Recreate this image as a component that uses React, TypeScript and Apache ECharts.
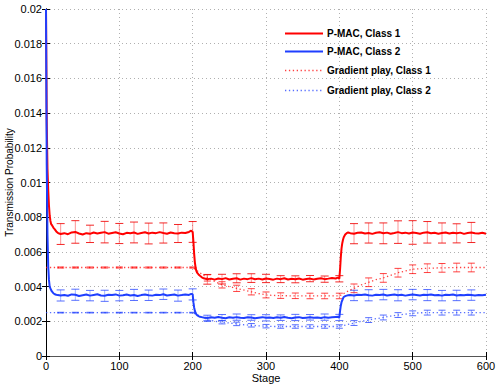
import React, { useEffect, useRef } from "react";
import * as echarts from "echarts";

const seriesNames = ["P-MAC, Class 1", "P-MAC, Class 2", "Gradient play, Class 1", "Gradient play, Class 2"];

const pmacStages = [
  0, 1, 2, 3, 4, 5, 6, 7, 8, 10, 12, 14, 16, 18,
  20, 25, 30, 35, 40, 45, 50, 55, 60, 65, 70, 75, 80, 85, 90, 95, 100, 105, 110, 115, 120, 125, 130, 135, 140, 145, 150, 155, 160, 165, 170, 175, 180, 185, 190, 195,
  198, 200, 201, 202, 203, 204, 205, 206, 208, 210, 212,
  215, 220, 225, 230, 235, 240, 245, 250, 255, 260, 265, 270, 275, 280, 285, 290, 295, 300, 305, 310, 315, 320, 325, 330, 335, 340, 345, 350, 355, 360, 365, 370, 375, 380, 385, 390, 395,
  398, 400, 401, 402, 403, 404, 405, 406, 408, 410, 412,
  415, 420, 425, 430, 435, 440, 445, 450, 455, 460, 465, 470, 475, 480, 485, 490, 495, 500, 505, 510, 515, 520, 525, 530, 535, 540, 545, 550, 555, 560, 565, 570, 575, 580, 585, 590, 595, 600,
];

const pmacClass1 = [
  0.02, 0.0135, 0.0108, 0.0096, 0.0087, 0.0081, 0.0078, 0.0076, 0.00755, 0.0074, 0.0073, 0.00718, 0.0071, 0.00706,
  0.00703, 0.00708, 0.00702, 0.00712, 0.00715, 0.00706, 0.007, 0.00708, 0.00704, 0.00712,
  0.00706, 0.0071, 0.00714, 0.00705, 0.00709, 0.00713, 0.00706, 0.00702, 0.0071, 0.00707,
  0.00712, 0.00704, 0.00709, 0.00713, 0.00706, 0.00711, 0.00708, 0.00714, 0.00709, 0.00705,
  0.00712, 0.00708, 0.00706, 0.00711, 0.00709, 0.00715,
  0.00722, 0.00715, 0.0066, 0.0059, 0.0054, 0.0051, 0.0049, 0.0048, 0.0047, 0.00462, 0.00455,
  0.00448, 0.00442, 0.00446, 0.0044, 0.00447, 0.00443, 0.00449, 0.00441, 0.00445, 0.00448,
  0.0044, 0.00446, 0.00443, 0.00449, 0.00442, 0.00446, 0.00441, 0.00447, 0.00444, 0.0044,
  0.00446, 0.00443, 0.00448, 0.00441, 0.00445, 0.00442, 0.00447, 0.0044, 0.00444, 0.00446,
  0.00441, 0.00445, 0.00448, 0.00443, 0.00446, 0.0045, 0.00447,
  0.00452, 0.00445, 0.005, 0.0057, 0.0062, 0.0065, 0.0067, 0.00685, 0.007, 0.00708, 0.00712,
  0.00708, 0.00705, 0.0071, 0.00712, 0.00706, 0.00709, 0.00704, 0.0071, 0.00713, 0.00707,
  0.00711, 0.00705, 0.00709, 0.00714, 0.00708, 0.00711, 0.00706, 0.00712, 0.00709, 0.00705,
  0.00711, 0.00713, 0.00707, 0.0071, 0.00705, 0.00709, 0.00712, 0.00706, 0.0071, 0.00707,
  0.00711, 0.00704, 0.00709, 0.00712, 0.00708, 0.00706, 0.0071, 0.00705,
];

const pmacClass2 = [
  0.02, 0.011, 0.007, 0.0052, 0.0044, 0.004, 0.0039, 0.0038, 0.00372, 0.00362, 0.00356, 0.00353, 0.00351, 0.0035,
  0.00349, 0.00352, 0.00347, 0.00355, 0.00353, 0.00346, 0.0035, 0.00354, 0.00348, 0.00352,
  0.00356, 0.00349, 0.00347, 0.00353, 0.00351, 0.00355, 0.00348, 0.0035, 0.00354, 0.00349,
  0.00352, 0.00346, 0.00351, 0.00355, 0.0035, 0.00348, 0.00353, 0.00351, 0.00356, 0.00349,
  0.00352, 0.00354, 0.00348, 0.00351, 0.00355, 0.00352,
  0.00358, 0.00355, 0.0031, 0.0028, 0.0026, 0.00248, 0.0024, 0.00235, 0.0023, 0.00226, 0.00224,
  0.00222, 0.00219, 0.00223, 0.0022, 0.00225, 0.00221, 0.00218, 0.00223, 0.0022, 0.00224,
  0.00221, 0.00219, 0.00223, 0.00222, 0.00218, 0.00221, 0.00224, 0.0022, 0.00222, 0.00219,
  0.00223, 0.00221, 0.00225, 0.0022, 0.00218, 0.00222, 0.00224, 0.00219, 0.00221, 0.00223,
  0.0022, 0.00222, 0.00219, 0.00224, 0.00221, 0.00223, 0.00225,
  0.00226, 0.00222, 0.0026, 0.0029, 0.0031, 0.0032, 0.00332, 0.0034, 0.00345, 0.00348, 0.0035,
  0.00352, 0.00349, 0.00353, 0.00351, 0.00355, 0.0035, 0.00348, 0.00353, 0.00351, 0.00354,
  0.00349, 0.00352, 0.00355, 0.0035, 0.00353, 0.00348, 0.00351, 0.00354, 0.00352, 0.00349,
  0.00353, 0.00351, 0.00355, 0.0035, 0.00352, 0.00348, 0.00353, 0.00351, 0.00354, 0.00349,
  0.00352, 0.0035, 0.00353, 0.00351, 0.00349, 0.00352, 0.0035, 0.00353,
];

const gpStages = [
  0, 10, 20, 30, 40, 50, 60, 70, 80, 90, 100, 110, 120, 130, 140, 150, 160, 170, 180, 190, 200,
  210, 220, 230, 240, 250, 260, 270, 280, 290, 300, 310, 320, 330, 340, 350, 360, 370, 380, 390, 400,
  410, 420, 430, 440, 450, 460, 470, 480, 490, 500, 510, 520, 530, 540, 550, 560, 570, 580, 590, 600,
];

const gpClass1 = [
  0.0051, 0.0051, 0.0051, 0.0051, 0.0051, 0.0051, 0.0051, 0.0051, 0.0051, 0.0051, 0.0051,
  0.0051, 0.0051, 0.0051, 0.0051, 0.0051, 0.0051, 0.0051, 0.0051, 0.0051, 0.0051,
  0.0048, 0.0045, 0.0043, 0.0041, 0.004, 0.0039, 0.0038, 0.0037, 0.0036, 0.00352,
  0.00349, 0.00348, 0.00347, 0.00347, 0.00346, 0.00346, 0.00346, 0.00346, 0.00346, 0.00346,
  0.0037, 0.0039, 0.0041, 0.00425, 0.0044, 0.0045, 0.00465, 0.0048, 0.0049, 0.005,
  0.00503, 0.00506, 0.00507, 0.00508, 0.00509, 0.0051, 0.0051, 0.0051, 0.0051, 0.0051,
];

const gpClass2 = [
  0.0025, 0.0025, 0.0025, 0.0025, 0.0025, 0.0025, 0.0025, 0.0025, 0.0025, 0.0025, 0.0025,
  0.0025, 0.0025, 0.0025, 0.0025, 0.0025, 0.0025, 0.0025, 0.0025, 0.0025, 0.0025,
  0.0023, 0.0021, 0.002, 0.00195, 0.0019, 0.00185, 0.0018, 0.00177, 0.00174, 0.00172,
  0.0017, 0.0017, 0.0017, 0.0017, 0.0017, 0.0017, 0.0017, 0.0017, 0.0017, 0.0017,
  0.0018, 0.0019, 0.002, 0.00207, 0.00215, 0.00222, 0.0023, 0.00236, 0.00241, 0.00246,
  0.00249, 0.0025, 0.0025, 0.0025, 0.0025, 0.0025, 0.0025, 0.0025, 0.0025, 0.0025,
];

const errStages = [20, 40, 60, 80, 100, 120, 140, 160, 180, 200, 220, 240, 260, 280, 300, 320, 340, 360, 380, 400, 420, 440, 460, 480, 500, 520, 540, 560, 580];

const pmacClass1Err = [
  0.0006, 0.00065, 0.0005, 0.00062, 0.00058, 0.0006, 0.0006, 0.00058, 0.00052, 0.0006,
  0.00028, 0.00028, 0.00026, 0.00025, 0.00024, 0.0002, 0.0002, 0.00018, 0.00018, 0.00018,
  0.00058, 0.00058, 0.0006, 0.00065, 0.00068, 0.00062, 0.00058, 0.00055, 0.00058,
];
const pmacClass2Err = [
  0.00032, 0.00032, 0.0003, 0.00032, 0.0003, 0.00032, 0.0003, 0.0003, 0.00032, 0.00032,
  0.00016, 0.00018, 0.00018, 0.00016, 0.00018, 0.00016, 0.00018, 0.00016, 0.00018, 0.00018,
  0.0003, 0.00032, 0.0003, 0.00032, 0.0003, 0.00032, 0.0003, 0.0003, 0.0003,
];
const gpClass1Err = [
  0.00003, 0.00003, 0.00003, 0.00003, 0.00003, 0.00003, 0.00003, 0.00003, 0.00003, 0.00003,
  0.00018, 0.00018, 0.00018, 0.00018, 0.00017, 0.00016, 0.00016, 0.00016, 0.00016, 0.00016,
  0.00025, 0.00025, 0.00025, 0.00025, 0.00025, 0.00025, 0.00025, 0.00025, 0.00025,
];
const gpClass2Err = [
  0.00002, 0.00002, 0.00002, 0.00002, 0.00002, 0.00002, 0.00002, 0.00002, 0.00002, 0.00002,
  0.0001, 0.0001, 0.0001, 0.0001, 0.0001, 0.0001, 0.0001, 0.0001, 0.0001, 0.0001,
  0.00014, 0.00014, 0.00014, 0.00014, 0.00014, 0.00014, 0.00014, 0.00014, 0.00014,
];

const FONT = "'Liberation Sans', Arial, Helvetica, sans-serif";
const RED = "#ff0000";
const BLUE = "#1f3fff";
const RED_DOT = "rgba(255,0,0,0.75)";
const BLUE_DOT = "rgba(31,63,255,0.75)";
const DOT_DASH = [1.3, 2.6];

function pairs(xs: number[], ys: number[]) {
  return xs.map((x, i) => [x, ys[i]]);
}

function errData(xs: number[], ys: number[], err: number[]) {
  return errStages.map((s, i) => {
    const idx = xs.indexOf(s);
    const c = ys[idx];
    return [s, c - err[i], c + err[i]];
  });
}

function errSeries(data: number[][], stem: string, cap: string, capW: number) {
  return {
    type: "custom",
    silent: true,
    data,
    encode: { x: 0, y: [1, 2] },
    renderItem: (params: any, api: any) => {
      const x = api.value(0);
      const lo = api.coord([x, api.value(1)]);
      const hi = api.coord([x, api.value(2)]);
      return {
        type: "group",
        children: [
          { type: "line", shape: { x1: lo[0], y1: lo[1], x2: hi[0], y2: hi[1] }, style: { stroke: stem, lineWidth: 1 } },
          { type: "line", shape: { x1: lo[0] - capW, y1: lo[1], x2: lo[0] + capW, y2: lo[1] }, style: { stroke: cap, lineWidth: 1 } },
          { type: "line", shape: { x1: hi[0] - capW, y1: hi[1], x2: hi[0] + capW, y2: hi[1] }, style: { stroke: cap, lineWidth: 1 } },
        ],
      };
    },
    z: 3,
  };
}

const legendEntries = [
  { name: seriesNames[0], y: 33.5, color: RED, width: 2, dash: null as number[] | null },
  { name: seriesNames[1], y: 51.5, color: BLUE, width: 2, dash: null },
  { name: seriesNames[2], y: 70.5, color: RED_DOT, width: 1.3, dash: DOT_DASH },
  { name: seriesNames[3], y: 90.5, color: BLUE_DOT, width: 1.3, dash: DOT_DASH },
];

export default function App() {
  const ref = useRef<HTMLDivElement>(null);
  useEffect(() => {
    if (!ref.current) return;
    const chart = echarts.init(ref.current, null, { renderer: "svg" });
    const axisCommon = {
      type: "value",
      axisLine: { show: true, lineStyle: { color: "#000", width: 1 } },
      axisTick: { show: true, inside: true, length: 4, lineStyle: { color: "#000" } },
    };
    const legendGraphics: any[] = [];
    legendEntries.forEach((e) => {
      legendGraphics.push({
        type: "line",
        shape: { x1: 285, y1: e.y, x2: 323, y2: e.y },
        style: { stroke: e.color, lineWidth: e.width, lineDash: e.dash || undefined },
        z: 10,
      });
      legendGraphics.push({
        type: "text",
        x: 327,
        y: e.y,
        style: {
          text: e.name,
          fill: "#000",
          font: `bold 10px ${FONT}`,
          textVerticalAlign: "middle",
          verticalAlign: "middle",
        },
        z: 10,
      });
    });
    chart.setOption({
      animation: false,
      backgroundColor: "#fff",
      grid: { left: 46, right: 12, top: 9, bottom: 29, containLabel: false, outerBoundsMode: "none" },
      graphic: legendGraphics,
      xAxis: [
        {
          ...axisCommon,
          min: 0,
          max: 600,
          interval: 100,
          name: "Stage",
          nameLocation: "middle",
          nameGap: 16,
          nameMoveOverlap: false,
          nameTextStyle: { fontFamily: FONT, fontSize: 11, color: "#000" },
          axisLabel: { fontFamily: FONT, fontSize: 11, color: "#000", margin: 4 },
          splitLine: { show: true, lineStyle: { color: "#b0b0b0", type: [1, 3], width: 1 } },
        },
        {
          ...axisCommon,
          position: "top",
          min: 0,
          max: 600,
          interval: 100,
          axisLine: { show: true, lineStyle: { color: "#555", width: 1 } },
          axisLabel: { show: false },
          splitLine: { show: false },
        },
      ],
      yAxis: [
        {
          ...axisCommon,
          min: 0,
          max: 0.02,
          interval: 0.002,
          name: "Transmission Probability",
          nameLocation: "middle",
          nameGap: 32,
          nameMoveOverlap: false,
          nameTextStyle: { fontFamily: FONT, fontSize: 10, color: "#000" },
          axisLabel: {
            fontFamily: FONT,
            fontSize: 11,
            color: "#000",
            margin: 4,
            formatter: (v: number) => (v === 0 ? "0" : String(parseFloat(v.toFixed(4)))),
          },
          splitLine: { show: true, lineStyle: { color: "#b0b0b0", type: [1, 3], width: 1 } },
        },
        {
          ...axisCommon,
          position: "right",
          min: 0,
          max: 0.02,
          interval: 0.002,
          axisLabel: { show: false },
          splitLine: { show: false },
        },
      ],
      series: [
        {
          name: seriesNames[2],
          type: "line",
          data: pairs(gpStages, gpClass1),
          symbol: "none",
          lineStyle: { color: RED_DOT, width: 1.3, type: DOT_DASH },
          itemStyle: { color: RED_DOT },
        },
        {
          name: seriesNames[3],
          type: "line",
          data: pairs(gpStages, gpClass2),
          symbol: "none",
          lineStyle: { color: BLUE_DOT, width: 1.3, type: DOT_DASH },
          itemStyle: { color: BLUE_DOT },
        },
        {
          name: seriesNames[0],
          type: "line",
          data: pairs(pmacStages, pmacClass1),
          symbol: "none",
          lineStyle: { color: RED, width: 2 },
          itemStyle: { color: RED },
        },
        {
          name: seriesNames[1],
          type: "line",
          data: pairs(pmacStages, pmacClass2),
          symbol: "none",
          lineStyle: { color: BLUE, width: 2 },
          itemStyle: { color: BLUE },
        },
        errSeries(errData(gpStages, gpClass1, gpClass1Err), "rgba(255,60,60,0.5)", RED_DOT, 3.5),
        errSeries(errData(gpStages, gpClass2, gpClass2Err), "rgba(60,90,255,0.5)", BLUE_DOT, 3.5),
        errSeries(errData(pmacStages, pmacClass1, pmacClass1Err), "rgba(255,60,60,0.55)", "rgba(240,0,0,0.85)", 4),
        errSeries(errData(pmacStages, pmacClass2, pmacClass2Err), "rgba(60,90,255,0.45)", BLUE_DOT, 4),
      ],
    });
    return () => chart.dispose();
  }, []);
  return <div ref={ref} style={{ position: "fixed", left: 0, top: 0, width: 498, height: 385 }} />;
}
